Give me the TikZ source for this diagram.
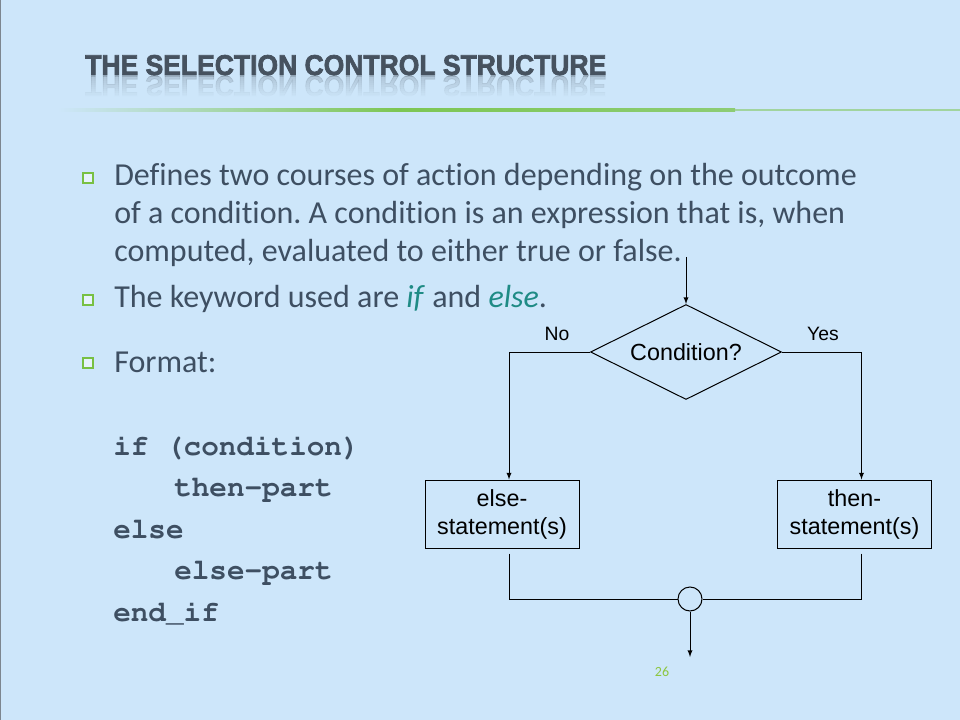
\documentclass[tikz,border=0pt]{standalone}
\usepackage{fontspec}
\setmainfont[Ligatures=NoCommon]{Carlito}
\newfontfamily\arialfont{Liberation Sans}
\newfontfamily\headfont[FakeBold=2.5]{Liberation Sans Bold}
\newcommand{\codefont}{\fontencoding{T1}\fontfamily{pcr}\fontseries{b}\selectfont}
\usepackage{tikz}
\usetikzlibrary{calc,arrows,positioning,shapes.geometric}
\definecolor{bgblue}{RGB}{205,230,250}
\definecolor{txtcol}{HTML}{3E4F62}
\definecolor{ttlcol}{HTML}{46525F}
\definecolor{keycol}{HTML}{1F8B85}
\definecolor{bulgreen}{HTML}{78C043}
\definecolor{linegreen}{HTML}{7DC653}
\definecolor{pagegreen}{HTML}{8CC63F}
\frenchspacing

\begin{document}
\begin{tikzpicture}[x=0.75pt,y=-0.75pt]
    \tikzset{txt/.style={anchor=base west,inner sep=0pt,text=txtcol,font=\fontsize{24}{28}\selectfont},
        code/.style={anchor=base west,inner sep=0pt,text=txtcol,font=\codefont\fontsize{22}{26}\selectfont},
        bul/.style={draw=bulgreen,fill=bgblue!50!white,line width=1.5pt,minimum size=8pt,inner sep=0pt},
        flow/.style={draw=black,line width=0.75pt,font=\arialfont\fontsize{17.5}{21}\selectfont},
        lbl/.style={inner sep=0pt,font=\arialfont\fontsize{14.5}{17}\selectfont},
        link/.style={draw=black,line width=0.75pt},
        lines/.style={link,-latex},}
    \useasboundingbox (0,0) rectangle (960,720);
    \fill[bgblue] (0,0) rectangle (960,720);
    \draw[ttlcol!70,line width=0.75pt] (0.5,0) -- (0.5,720);
    \node[anchor=base west,inner sep=0pt,text=ttlcol] (title) at (85,75)
        {\resizebox{390.75pt}{15pt}{\headfont THE SELECTION CONTROL STRUCTURE}};
    \node[anchor=base west,inner sep=0pt,text=ttlcol,opacity=0.3] (mirror) at (85,76)
        {\scalebox{1}[-1]{\resizebox{390.75pt}{15pt}{\headfont THE SELECTION CONTROL STRUCTURE}}};
    \foreach \i [evaluate=\i as \op using 0.35+0.065*\i] in {0,...,10}
        \fill[bgblue,opacity=\op] (80,77+2*\i) rectangle (620,79+2*\i);
    \fill[bgblue] (80,99) rectangle (620,102);
    \shade[left color=bgblue,right color=linegreen!80!bgblue,middle color=linegreen] (58,109) rectangle (735,111.5);
    \fill[linegreen!55!bgblue] (735,109.5) rectangle (960,111);

    \node[bul] (b1) at (88,178) {};
    \node[bul] (b2) at (88,300) {};
    \node[bul] (b3) at (88,363) {};
    \node[txt] (l1) at (114,186) {Defines two courses of action depending on the outcome};
    \node[txt] (l2) at (114,224) {of a condition. A condition is an expression that is, when};
    \node[txt] (l3) at (114,262) {computed, evaluated to either true or false.};
    \node[txt] (l4) at (114,307) {The keyword used are \textcolor{keycol}{\textit{if}} and \textcolor{keycol}{\textit{else}}.};
    \node[txt] (fmt) at (114,372) {Format:};

    \node[code] (c1) at (113,455) {if (condition)};
    \node[code] (c2) at (174,496) {then-part};
    \node[code] (c3) at (113,538) {else};
    \node[code] (c4) at (174,579) {else-part};
    \node[code] (c5) at (113,621) {end\_if};

    \coordinate (in) at (686,257);
    \node[flow,diamond,aspect=2,inner sep=0pt,minimum width=143.25pt,minimum height=71.25pt] (cond) at (686,352) {Condition?};
    \node[flow,align=center,minimum width=115.5pt,minimum height=51pt] (elsebox) at (502,514) {else-\\statement(s)};
    \node[flow,align=center,minimum width=115.5pt,minimum height=51pt] (thenbox) at (854.5,514) {then-\\statement(s)};
    \node[flow,circle,inner sep=0pt,minimum size=18pt] (join) at (690,599) {};
    \coordinate (out) at (690,657);
    \node[lbl] (no) at (557,334) {No};
    \node[lbl] (yes) at (823,334) {Yes};
    \draw[lines] (in) -- (cond.north);
    \draw[lines] (cond.west) -| ([xshift=5.25pt]elsebox.north);
    \draw[lines] (cond.east) -| ([xshift=5.25pt]thenbox.north);
    \draw[link] ([xshift=5.25pt,yshift=-3.75pt]elsebox.south) |- (join);
    \draw[link] ([xshift=5.25pt,yshift=-3.75pt]thenbox.south) |- (join);
    \draw[lines] (join) -- (out);
    \node[text=pagegreen,font=\fontsize{10.5}{12}\selectfont] (page) at (662,672) {26};
\end{tikzpicture}
\end{document}
